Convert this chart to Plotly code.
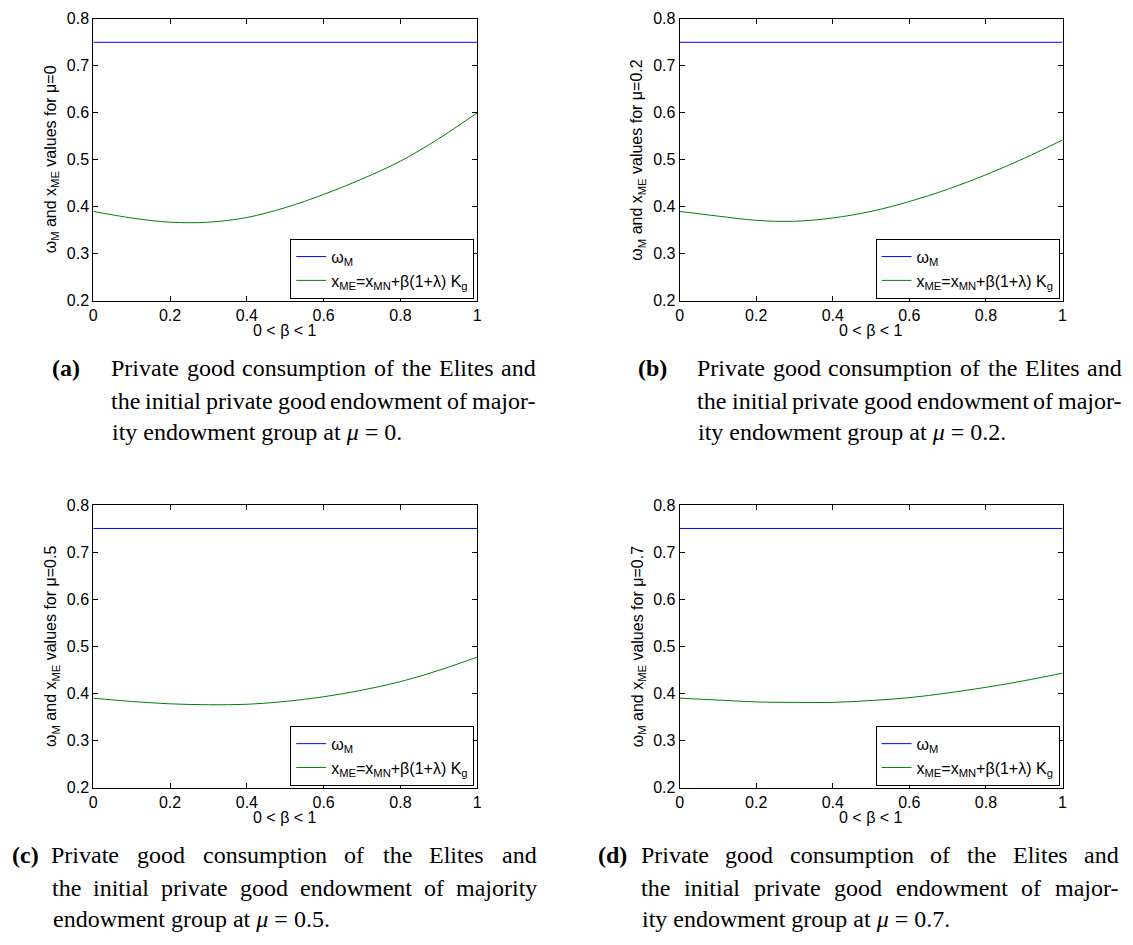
import plotly.graph_objects as go

# ---------------- data ----------------
beta = [0.0, 0.1, 0.2, 0.3, 0.4, 0.5, 0.6, 0.7, 0.8, 0.9, 1.0]
omega_M = [0.75, 0.75, 0.75, 0.75, 0.75, 0.75, 0.75, 0.75, 0.75, 0.75, 0.75]
x_ME_mu0 = [0.390, 0.376, 0.367, 0.367, 0.377, 0.398, 0.426, 0.459, 0.497, 0.545, 0.600]
x_ME_mu02 = [0.390, 0.380, 0.371, 0.369, 0.376, 0.390, 0.411, 0.437, 0.468, 0.503, 0.542]
x_ME_mu05 = [0.390, 0.383, 0.378, 0.376, 0.377, 0.383, 0.393, 0.407, 0.425, 0.449, 0.477]
x_ME_mu07 = [0.390, 0.386, 0.382, 0.381, 0.381, 0.385, 0.391, 0.401, 0.413, 0.427, 0.443]
mu_labels = ["0", "0.2", "0.5", "0.7"]
panel_letters = ["a", "b", "c", "d"]
x_tick_vals = [0, 0.2, 0.4, 0.6, 0.8, 1]
x_tick_text = ["0", "0.2", "0.4", "0.6", "0.8", "1"]
y_tick_vals = [0.2, 0.3, 0.4, 0.5, 0.6, 0.7, 0.8]
y_tick_text = ["0.2", "0.3", "0.4", "0.5", "0.6", "0.7", "0.8"]
series_x_ME = [x_ME_mu0, x_ME_mu02, x_ME_mu05, x_ME_mu07]
legend_names = ["ω<sub>M</sub>", "x<sub>ME</sub>=x<sub>MN</sub>+β(1+λ) K<sub>g</sub>"]
caption_lines = [
    ["Private good consumption of the Elites and", "the initial private good endowment of major-", "ity endowment group at <i>μ</i> = 0."],
    ["Private good consumption of the Elites and", "the initial private good endowment of major-", "ity endowment group at <i>μ</i> = 0.2."],
    ["Private good consumption of the Elites and", "the initial private good endowment of majority", "endowment group at <i>μ</i> = 0.5."],
    ["Private good consumption of the Elites and", "the initial private good endowment of major-", "ity endowment group at <i>μ</i> = 0.7."],
]

# ---------------- layout geometry (pixels) ----------------
W, H = 1133, 945
panels = [
    dict(l=90, r=477, t=11, b=298, lab=47, body=108, end=536),
    dict(l=681, r=1067, t=11, b=298, lab=638, body=699, end=1127),
    dict(l=90, r=477, t=506, b=794, lab=7, body=48, end=537),
    dict(l=681, r=1067, t=506, b=794, lab=598, body=642, end=1124),
]
AX_FONT = "Liberation Sans, Arial, sans-serif"
AX_SIZE = 16
CAP_FONT = "Liberation Serif, Times New Roman, serif"
CAP_SIZE = 24

# Times New Roman metrics (per 1000 em)
TW = {' ': 250, '(': 333, ')': 333, '-': 333, '.': 250, '=': 564,
      'a': 444, 'b': 500, 'c': 444, 'd': 500, 'e': 444, 'f': 333, 'g': 500, 'h': 500,
      'i': 278, 'j': 278, 'k': 500, 'l': 278, 'm': 778, 'n': 500, 'o': 500, 'p': 500,
      'q': 500, 'r': 333, 's': 389, 't': 278, 'u': 500, 'v': 500, 'w': 722, 'x': 500,
      'y': 500, 'z': 444, 'P': 556, 'E': 611}


def tw(s, size):
    return sum(TW.get(ch, 500) for ch in s) * size / 1000.0


def px(xp):
    return xp / W


def py(yp):
    return 1 - yp / H


fig = go.Figure()
annotations = []
layout = dict(width=W, height=H, margin=dict(l=0, r=0, t=0, b=0),
              paper_bgcolor="white", plot_bgcolor="white", showlegend=True)

for i, p in enumerate(panels):
    sfx = "" if i == 0 else str(i + 1)
    leg = "legend" + sfx
    fig.add_trace(go.Scatter(x=beta, y=omega_M, mode="lines", name=legend_names[0],
                             line=dict(color="#0000FF", width=1),
                             xaxis="x" + sfx, yaxis="y" + sfx, legend=leg, hoverinfo="skip"))
    fig.add_trace(go.Scatter(x=beta, y=series_x_ME[i], mode="lines", name=legend_names[1],
                             line=dict(color="#008000", width=1, shape="spline"),
                             xaxis="x" + sfx, yaxis="y" + sfx, legend=leg, hoverinfo="skip"))
    common = dict(showline=True, mirror="ticks", linecolor="black", linewidth=1,
                  ticks="inside", ticklen=5, tickcolor="black", showgrid=False,
                  zeroline=False, tickfont=dict(family=AX_FONT, size=AX_SIZE, color="black"))
    layout["xaxis" + sfx] = dict(common, domain=[px(p["l"]), px(p["r"])], range=[0, 1],
                                 anchor="y" + sfx, tickvals=x_tick_vals, ticktext=x_tick_text)
    layout["yaxis" + sfx] = dict(common, domain=[py(p["b"]), py(p["t"])], range=[0.2, 0.8],
                                 anchor="x" + sfx, tickvals=y_tick_vals, ticktext=y_tick_text)
    layout[leg] = dict(x=px(p["r"] - 3), y=py(p["b"] - 2), xanchor="right", yanchor="bottom",
                       xref="paper", yref="paper",
                       bordercolor="black", borderwidth=1, bgcolor="white",
                       font=dict(family=AX_FONT, size=AX_SIZE, color="black"),
                       tracegroupgap=0, itemwidth=30)
    # axis titles
    annotations.append(dict(x=px(p["l"] - 42), y=py((p["t"] + p["b"]) / 2), xref="paper", yref="paper",
                            text="ω<sub>M</sub> and x<sub>ME</sub> values for μ=" + mu_labels[i],
                            textangle=-90, showarrow=False, xanchor="center", yanchor="middle",
                            font=dict(family=AX_FONT, size=AX_SIZE, color="black")))
    annotations.append(dict(x=px((p["l"] + p["r"]) / 2), y=py(p["b"] + 30), xref="paper", yref="paper",
                            text="0 &lt; β &lt; 1", showarrow=False, xanchor="center", yanchor="middle",
                            font=dict(family=AX_FONT, size=AX_SIZE, color="black")))
    # captions: label + justified lines (each word placed on its own)
    offs = [69, 102, 134]
    annotations.append(dict(x=px(p["lab"]), y=py(p["b"] + offs[0]), xref="paper", yref="paper",
                            text="<b>(" + panel_letters[i] + ")</b>", showarrow=False,
                            xanchor="left", yanchor="middle", align="left", borderpad=0,
                            font=dict(family=CAP_FONT, size=CAP_SIZE, color="black")))
    for li, line in enumerate(caption_lines[i]):
        yc = py(p["b"] + offs[li])
        if li < 2:
            words = line.split(" ")
            widths = [tw(w, CAP_SIZE) for w in words]
            gap = (p["end"] - p["body"] - sum(widths)) / (len(words) - 1)
            xcur = p["body"]
            for w, wd in zip(words, widths):
                annotations.append(dict(x=px(xcur + wd / 2), y=yc, xref="paper", yref="paper", text=w,
                                        showarrow=False, xanchor="center", yanchor="middle", borderpad=0,
                                        font=dict(family=CAP_FONT, size=CAP_SIZE, color="black")))
                xcur += wd + gap
        else:
            annotations.append(dict(x=px(p["body"]), y=yc, xref="paper", yref="paper", text=line,
                                    showarrow=False, xanchor="left", yanchor="middle", align="left",
                                    borderpad=0,
                                    font=dict(family=CAP_FONT, size=CAP_SIZE, color="black")))

layout["annotations"] = annotations
fig.update_layout(layout)
fig.write_html("out.html")
